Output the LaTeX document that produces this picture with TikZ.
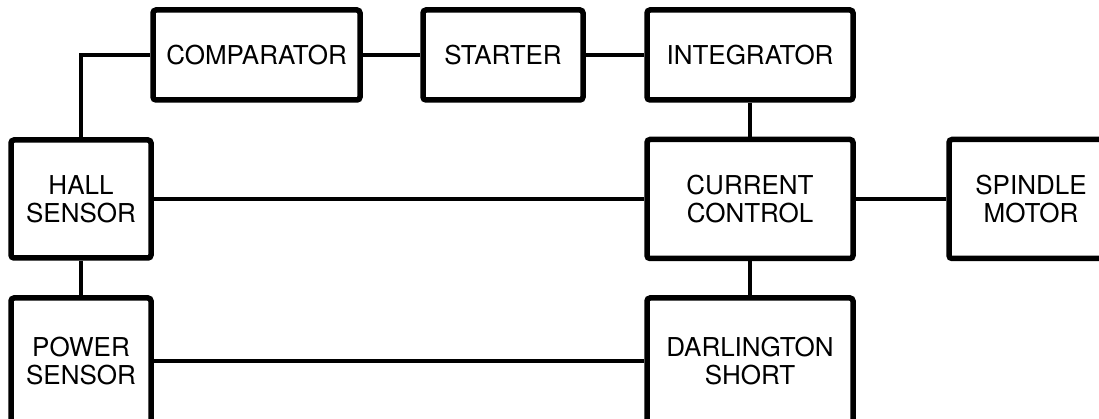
\documentclass[tikz,border=0pt]{standalone}
\usepackage{fontspec}
\setmainfont{TeX Gyre Heros}
\begin{document}
\begin{tikzpicture}[x=1pt,y=-1pt,
  block/.style={draw,line width=5.5pt,rounded corners=3pt,align=center,
    font=\fontsize{26}{28}\selectfont,inner sep=0pt},
  wire/.style={line width=3.8pt}]
\useasboundingbox (0,0) rectangle (1099,419);

\node[block,minimum width=207pt,minimum height=90pt] (comp) at (256.5,55) {COMPARATOR};
\node[block,minimum width=160pt,minimum height=90pt] (start) at (503,55) {STARTER};
\node[block,minimum width=206pt,minimum height=90pt] (integ) at (750,55) {INTEGRATOR};

\node[block,minimum width=140pt,minimum height=118pt] (hall) at (81,199) {HALL\\SENSOR};
\node[block,minimum width=206pt,minimum height=119pt] (curr) at (750,199) {CURRENT\\CONTROL};
\node[block,minimum width=164pt,minimum height=119pt] (spindle) at (1031,199) {SPINDLE\\MOTOR};

\node[block,minimum width=140pt,minimum height=126pt] (power) at (81,361) {POWER\\SENSOR};
\node[block,minimum width=206pt,minimum height=126pt] (darl) at (750,361) {DARLINGTON\\SHORT};

\draw[wire] (hall.north) |- (comp.west);
\draw[wire] (comp.east) -- (start.west);
\draw[wire] (start.east) -- (integ.west);
\draw[wire] (integ.south) -- (curr.north);
\draw[wire] (hall.east) -- (curr.west);
\draw[wire] (curr.east) -- (spindle.west);
\draw[wire] (hall.south) -- (power.north);
\draw[wire] (curr.south) -- (darl.north);
\draw[wire] (power.east) -- (darl.west);
\end{tikzpicture}
\end{document}
